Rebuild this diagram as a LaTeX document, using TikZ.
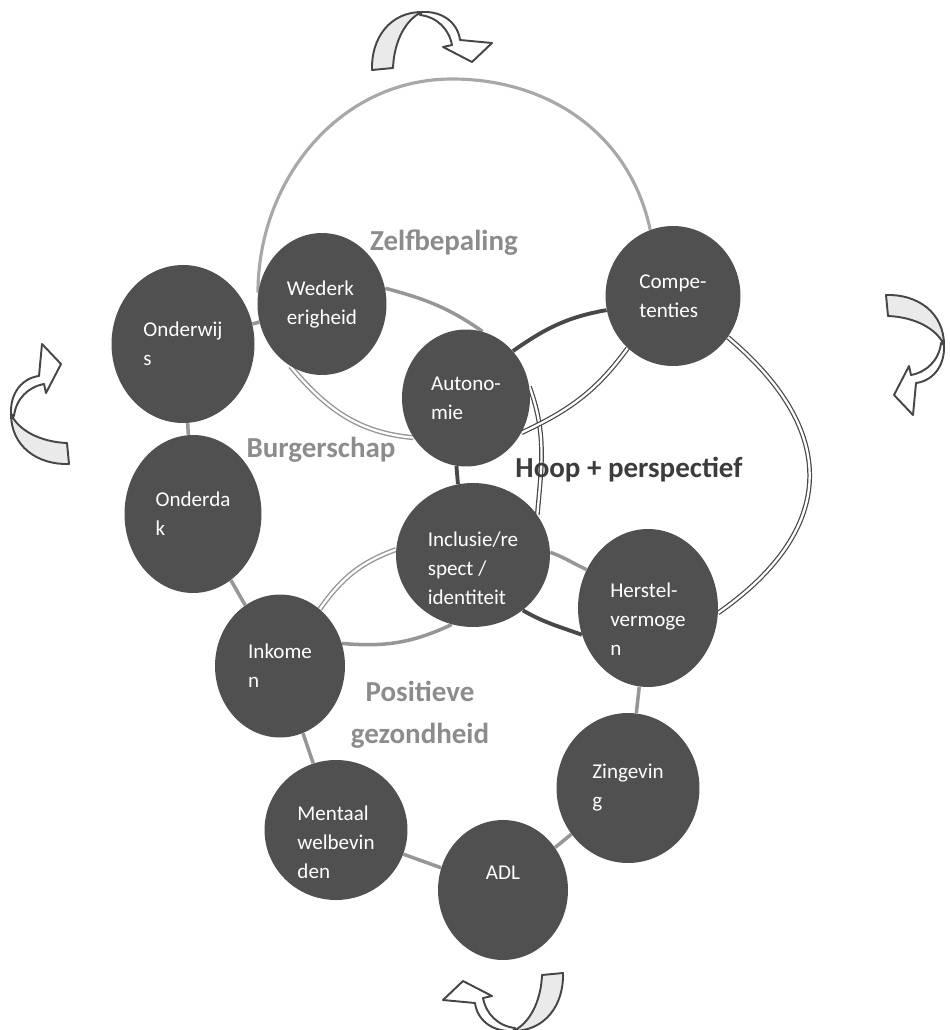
\documentclass[tikz,border=0pt]{standalone}
\usepackage{fontspec}
\setmainfont{Carlito}
\usetikzlibrary{shapes.geometric,backgrounds}
\definecolor{bubblegray}{RGB}{80,80,80}
\definecolor{themegray}{RGB}{140,140,140}
\definecolor{hoopgray}{RGB}{60,60,60}
\definecolor{linkgray}{RGB}{150,150,150}
\definecolor{ringgray}{RGB}{168,168,168}
\definecolor{darkline}{RGB}{72,72,72}
\definecolor{arrowgray}{RGB}{234,234,234}
\definecolor{arrowline}{RGB}{70,70,70}

\begin{document}
\begin{tikzpicture}[x=0.02cm,y=-0.02cm,
  bubble/.style={ellipse,fill=bubblegray,text=white,inner sep=0pt,align=left,
    minimum width=2.7cm,minimum height=2.9cm,font=\fontsize{12}{16.5}\selectfont},
  bubbletext/.style={text=white,inner sep=0pt,align=left,font=\fontsize{12}{16.5}\selectfont},
  theme/.style={text=themegray,align=center,font=\bfseries\fontsize{16.5}{24}\selectfont},
  link/.style={draw=linkgray,line width=2pt},
  darklink/.style={draw=darkline,line width=2.2pt},
  ring/.style={draw=ringgray,line width=1.8pt},
  twin/.style={draw=darkline,double=white,line width=0.7pt,double distance=1.3pt},
  greytwin/.style={draw=linkgray,double=white,line width=0.8pt,double distance=1.3pt},
  backface/.style={fill=arrowgray,draw=arrowline,line width=1.1pt,line join=round},
  frontface/.style={fill=white,draw=arrowline,line width=1.1pt,line join=round}]
\useasboundingbox (0,0) rectangle (949,1030);

% curved arrows round the picture
\foreach \ax/\ay/\turn in {432/41/0,40/404/90,915/355/-90,503/1002/180}{
  \begin{scope}[shift={(\ax,\ay)},rotate=\turn]
    \filldraw[backface] (-60,29) .. controls (-61,-3) and (-42,-29) .. (-10,-29)
      .. controls (-26,-22) and (-38,0) .. (-39,27) -- cycle;
    \filldraw[frontface] (-10,-29) .. controls (12,-30) and (26,-17) .. (28,-1)
      -- (60,2) -- (40,21) -- (11,6) -- (20,4)
      .. controls (17,-12) and (5,-24) .. (-12,-26) -- cycle;
  \end{scope}
}

% circles
\node[bubble,minimum width=2.86cm,minimum height=3.16cm] (onderwijs) at (183,344) {Onderwij\\s};
\node[bubble,minimum width=2.58cm,minimum height=2.84cm] (wederk) at (322,304) {Wederk\\erigheid};
\node[bubble,minimum height=2.8cm] (comp) at (673,296) {Compe-\\tenties};
\node[bubble,minimum width=2.56cm,minimum height=2.74cm] (auto) at (466,398) {Autono-\\mie};
\node[bubble,minimum width=2.74cm,minimum height=3.16cm] (onderdak) at (193,514) {Onderda\\k};
\node[bubble,minimum width=3.08cm,minimum height=2.88cm,
  label={[bubbletext,yshift=-0.26cm]center:{Inclusie/re\\spect /\\identiteit}}] (incl) at (473,555) {};
\node[bubble,minimum width=2.8cm,minimum height=3.16cm,
  label={[bubbletext,yshift=-0.22cm]center:{Herstel-\\vermoge\\n}}] (herstel) at (648,608) {};
\node[bubble,minimum width=2.6cm,minimum height=2.86cm] (inkomen) at (280,666) {Inkome\\n};
\node[bubble,minimum width=2.86cm,minimum height=3.0cm] (zing) at (628,788) {Zingevin\\g};
\node[bubble,minimum width=2.86cm,minimum height=2.8cm,
  label={[bubbletext,yshift=-0.24cm]center:{Mentaal\\welbevin\\den}}] (mentaal) at (336,830) {};
\node[bubble,minimum width=2.6cm,minimum height=2.8cm,
  label={[bubbletext,yshift=0.34cm]center:ADL}] (adl) at (503,890) {};

% theme labels
\node[theme] (zelf) at (444,243) {Zelfbepaling};
\node[theme] (burger) at (321,450) {Burgerschap};
\node[theme,text=hoopgray] (hoop) at (629,470) {Hoop + perspectief};
\node[theme] (posgez) at (420,715) {Positieve\\gezondheid};

\begin{scope}[on background layer]
% outer chain
\draw[link] (onderwijs) -- (wederk);
\draw[link] (onderwijs) -- (onderdak);
\draw[link] (onderdak) -- (inkomen);
\draw[link] (inkomen) -- (mentaal);
\draw[link] (mentaal) -- (adl);
\draw[link] (adl) -- (zing);
\draw[link] (zing) -- (herstel);

% Zelfbepaling
\coordinate (ztop) at (452,79);
\draw[ring] (wederk.170) to[out=90,in=180] (ztop) to[out=0,in=102] (comp.109);
\draw[greytwin] (wederk.243) to[out=-50,in=175] (auto.217);
\draw[link] (wederk.14) to[out=-15,in=145] (auto.76);
\draw[twin] (auto.10) to[out=-70,in=85] (incl.32);
\draw[darklink] (auto.262) -- (incl.102);

% Hoop + perspectief
\draw[darklink] (auto.45) to[out=35,in=190] (comp.192);
\draw[twin] (auto.-32) to[out=25,in=234] (comp.229);
\draw[twin] (comp.-37) to[out=-40,in=35,looseness=1.35] (herstel.-4);

% Burgerschap / Positieve gezondheid
\draw[greytwin] (incl.176) to[out=200,in=55] (inkomen.55);
\draw[link] (inkomen.20) to[out=-5,in=205] (incl.253);
\draw[link] (incl.2) to[out=-20,in=155] (herstel.148);
\draw[darklink] (incl.-48) to[out=-30,in=160] (herstel.202);
\end{scope}
\end{tikzpicture}
\end{document}
